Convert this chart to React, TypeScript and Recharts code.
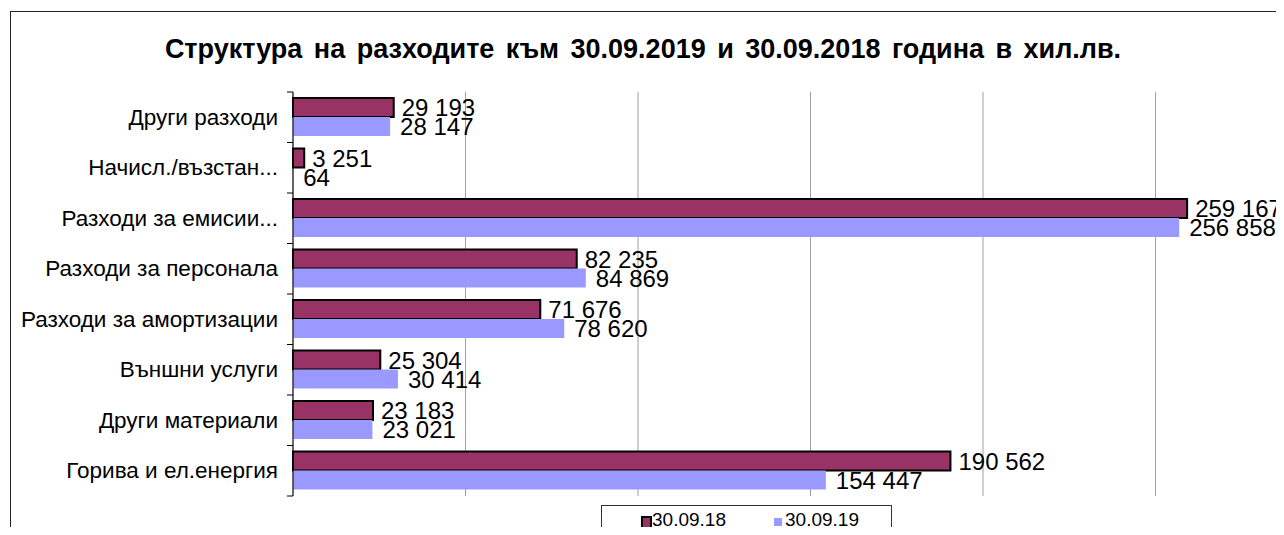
import { BarChart, Bar, XAxis, YAxis, CartesianGrid, LabelList } from "recharts";

const categories = [
  "Други разходи",
  "Начисл./възстан...",
  "Разходи за емисии...",
  "Разходи за персонала",
  "Разходи за амортизации",
  "Външни услуги",
  "Други материали",
  "Горива и ел.енергия",
];
const values2018 = [29193, 3251, 259167, 82235, 71676, 25304, 23183, 190562];
const values2019 = [28147, 64, 256858, 84869, 78620, 30414, 23021, 154447];
const xTicks = [0, 50000, 100000, 150000, 200000, 250000, 300000];
const seriesNames = ["30.09.18", "30.09.19"];

const data = categories.map((name, i) => ({
  name,
  v18: values2018[i],
  v19: values2019[i],
}));

const FONT = "Arial, 'Liberation Sans', sans-serif";
const CHART_W = 1340;
const CHART_H = 535;
const MARGIN = { top: 92, right: 12, bottom: 39, left: 0 };
const BAND = (CHART_H - MARGIN.top - MARGIN.bottom) / categories.length;

const fmt = (v: unknown) => String(v).replace(/\B(?=(\d{3})+(?!\d))/g, " ");

function CategoryTick(props: any) {
  const { x, y, payload, index } = props;
  const half = BAND / 2;
  return (
    <g>
      <line x1={x - 6} x2={x} y1={y - half} y2={y - half} stroke="#000" />
      {index === categories.length - 1 && (
        <line x1={x - 6} x2={x} y1={y + half} y2={y + half} stroke="#000" />
      )}
      <text
        x={x - 15}
        y={y}
        textAnchor="end"
        dominantBaseline="central"
        fontSize={22.5}
        fontFamily={FONT}
        fill="#000"
      >
        {payload.value}
      </text>
    </g>
  );
}

export default function App() {
  return (
    <div
      style={{
        position: "relative",
        width: 1284,
        height: 535,
        margin: -8,
        overflow: "hidden",
        background: "#fff",
        fontFamily: FONT,
      }}
    >
      <div
        style={{
          position: "absolute",
          left: 10,
          top: 11,
          width: 1300,
          height: 560,
          border: "1.5px solid #222",
        }}
      />
      <div
        style={{
          position: "absolute",
          top: 34,
          left: 0,
          width: 1286,
          textAlign: "center",
          fontWeight: "bold",
          fontSize: 27,
          wordSpacing: 4,
        }}
      >
        Структура на разходите към 30.09.2019 и 30.09.2018 година в хил.лв.
      </div>
      <div style={{ position: "absolute", left: 0, top: 0 }}>
        <BarChart
          width={CHART_W}
          height={CHART_H}
          data={data}
          layout="vertical"
          margin={MARGIN}
          barCategoryGap={6}
          barGap={0}
        >
          <CartesianGrid horizontal={false} stroke="#a0a0a0" />
          <XAxis
            type="number"
            domain={[0, 300000]}
            ticks={xTicks}
            hide
          />
          <YAxis
            type="category"
            dataKey="name"
            width={293}
            axisLine={{ stroke: "#000" }}
            tickLine={false}
            tickSize={0}
            tickMargin={0}
            tick={<CategoryTick />}
            interval={0}
          />
          <Bar
            dataKey="v18"
            name={seriesNames[0]}
            fill="#993366"
            stroke="#000"
            strokeWidth={2}
            isAnimationActive={false}
          >
            <LabelList
              dataKey="v18"
              position="right"
              offset={8}
              formatter={fmt}
              fill="#000"
              fontSize={24}
              fontFamily={FONT}
            />
          </Bar>
          <Bar
            dataKey="v19"
            name={seriesNames[1]}
            fill="#9999ff"
            isAnimationActive={false}
          >
            <LabelList
              dataKey="v19"
              position="right"
              offset={10}
              formatter={fmt}
              fill="#000"
              fontSize={24}
              fontFamily={FONT}
            />
          </Bar>
        </BarChart>
      </div>
      <div
        style={{
          position: "absolute",
          left: 601,
          top: 505,
          width: 289,
          height: 40,
          border: "1px solid #333",
          fontSize: 19,
        }}
      >
        <div style={{ position: "absolute", left: 39, top: 10, width: 7, height: 10, background: "#993366", border: "2px solid #000" }} />
        <div style={{ position: "absolute", left: 50, top: 3 }}>{seriesNames[0]}</div>
        <div style={{ position: "absolute", left: 172, top: 12, width: 8, height: 8, background: "#9999ff" }} />
        <div style={{ position: "absolute", left: 183, top: 3 }}>{seriesNames[1]}</div>
      </div>
    </div>
  );
}
